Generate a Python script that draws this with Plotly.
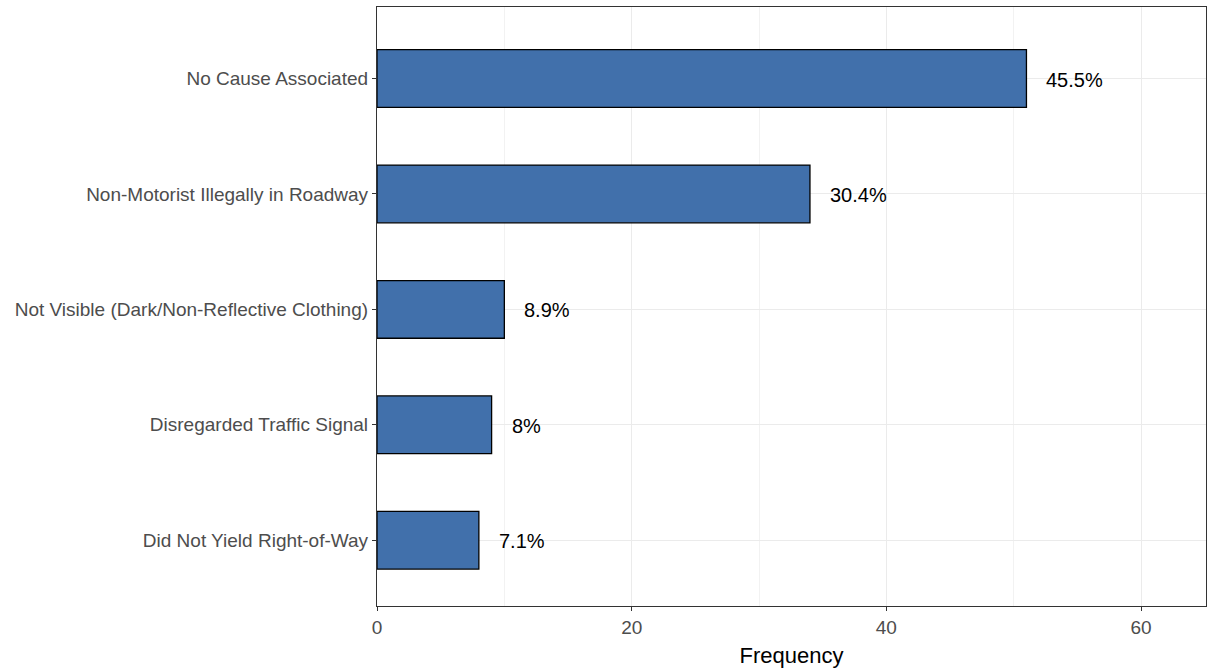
import plotly.graph_objects as go

categories = ["Did Not Yield Right-of-Way", "Disregarded Traffic Signal",
              "Not Visible (Dark/Non-Reflective Clothing)",
              "Non-Motorist Illegally in Roadway", "No Cause Associated"]
counts = [8, 9, 10, 34, 51]
pct_labels = ["7.1%", "8%", "8.9%", "30.4%", "45.5%"]

FONT = "Liberation Sans, Arial"

fig = go.Figure()
fig.add_trace(go.Bar(
    y=categories, x=counts, orientation="h", width=0.5,
    marker=dict(color="#4170AB", line=dict(color="black", width=1.3)),
    hoverinfo="skip",
))

for c, v, lab in zip(categories, counts, pct_labels):
    fig.add_annotation(x=v, y=c, text=lab, showarrow=False, xanchor="left",
                       xshift=18, yshift=-1,
                       font=dict(family=FONT, size=20, color="black"))

fig.update_layout(
    width=1208, height=670,
    margin=dict(l=377, r=2, t=7, b=64, autoexpand=False),
    plot_bgcolor="white", paper_bgcolor="white",
    showlegend=False,
    font=dict(family=FONT, size=19, color="#4D4D4D"),
)
fig.update_xaxes(
    range=[0, 65.1], tickvals=[0, 20, 40, 60], ticks="outside", ticklen=4,
    tickcolor="#333333", tickfont=dict(size=19, color="#4D4D4D"),
    showgrid=True, gridcolor="#EBEBEB", gridwidth=1,
    minor=dict(tickvals=[10, 30, 50], showgrid=True, gridcolor="#F2F2F2", gridwidth=1),
    showline=True, linecolor="#333333", linewidth=1.2, mirror=True, zeroline=False,
    automargin=False,
    title=dict(text="Frequency", font=dict(size=22, color="black"), standoff=10),
)
fig.update_yaxes(
    categoryorder="array", categoryarray=categories, range=[-0.57, 4.62],
    ticks="outside", ticklen=4, tickcolor="#333333",
    tickfont=dict(size=19, color="#4D4D4D"),
    showgrid=True, gridcolor="#EBEBEB", gridwidth=1,
    showline=True, linecolor="#333333", linewidth=1.2, mirror=True,
    automargin=False,
)

fig.write_html("out.html", config={"displayModeBar": False},
               post_script="document.body.style.margin='0';document.body.style.overflow='hidden';")
